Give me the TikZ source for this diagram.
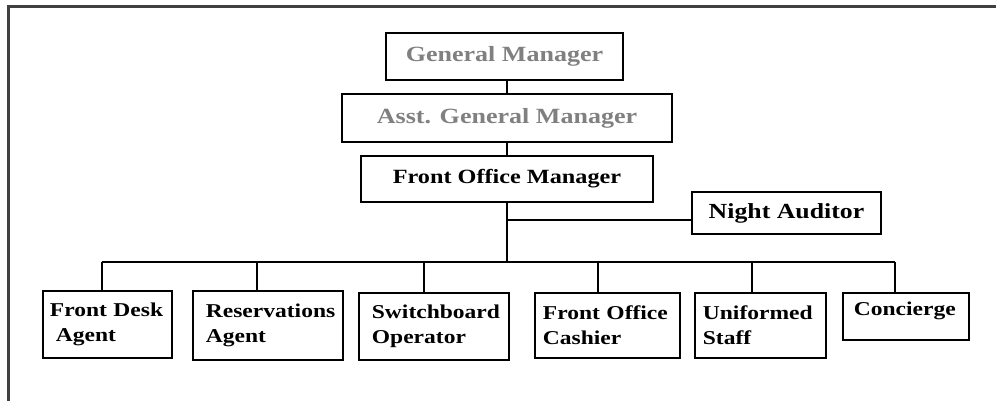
\documentclass[tikz,border=0pt]{standalone}
\usepackage{fontspec}
\newfontfamily\orgfont[FakeStretch=1.2]{Liberation Serif}
\definecolor{frameclr}{gray}{0.25}
\definecolor{greytxt}{gray}{0.5}
\begin{document}
\begin{tikzpicture}[x=1pt,y=-1pt,
  box/.style={draw=black, line width=1.8pt, inner sep=0pt, align=center},
  toptxt/.style={font=\orgfont\bfseries\fontsize{21.7}{25}\selectfont, text=greytxt},
  midtxt/.style={font=\orgfont\bfseries\fontsize{20.2}{24}\selectfont},
  leaf/.style={draw=black, line width=1.8pt, anchor=north west, align=left, inner ysep=0pt,
    font=\orgfont\bfseries\fontsize{19.6}{25}\selectfont},
  wire/.style={draw=black, line width=1.8pt}]
\useasboundingbox (0,0) rectangle (996,400);
\fill[white] (0,0) rectangle (996,400);
\draw[frameclr, line width=3pt] (8,401) -- (8,6) -- (997,6);

\node[box, toptxt, minimum width=237pt, minimum height=47pt] (gm) at (504.5,56.5) {General Manager};
\node[box, toptxt, minimum width=330pt, minimum height=48pt] (agm) at (507,118) {Asst. General Manager};
\node[box, midtxt, minimum width=292pt, minimum height=46pt] (fom) at (507,179) {Front Office Manager};
\node[box, midtxt, font=\orgfont\bfseries\fontsize{21.5}{25}\selectfont, minimum width=189pt, minimum height=42pt] (na) at (786.5,213) {Night Auditor};

\node[leaf, inner xsep=7pt, text width=115pt, minimum height=67pt] (fda) at (42,290) {Front~Desk\\\hspace*{6pt}Agent};
\node[leaf, inner xsep=13pt, text width=124pt, minimum height=69pt] (ra) at (192,290) {Reservations\\Agent};
\node[leaf, inner xsep=13pt, text width=124pt, minimum height=67pt] (so) at (358,292) {Switchboard\\Operator};
\node[leaf, inner xsep=8pt, text width=129pt, minimum height=65pt] (foc) at (534,292) {Front~Office\\Cashier};
\node[leaf, inner xsep=8pt, text width=115pt, minimum height=65pt] (us) at (694,292) {Uniformed\\Staff};
\node[leaf, inner xsep=11pt, text width=104pt, text depth=15pt, minimum height=47pt] (con) at (842,292) {Concierge};

\coordinate (nab) at (692,220);
\coordinate (bus) at (506,262);
\coordinate (d1) at (102,262);
\coordinate (d2) at (257,262);
\coordinate (d3) at (424,262);
\coordinate (d4) at (598,262);
\coordinate (d5) at (752,262);
\coordinate (d6) at (895,262);

\draw[wire] (agm.north) -- (agm.north |- gm.south);
\draw[wire] (fom.north) -- (fom.north |- agm.south);
\draw[wire] (fom.south) -- (fom.south |- bus);
\draw[wire] (fom.south |- nab) -- (na.west |- nab);
\draw[wire] (d1) -- (d6);
\draw[wire] (d1) -- (d1 |- fda.north);
\draw[wire] (d2) -- (d2 |- ra.north);
\draw[wire] (d3) -- (d3 |- so.north);
\draw[wire] (d4) -- (d4 |- foc.north);
\draw[wire] (d5) -- (d5 |- us.north);
\draw[wire] (d6) -- (d6 |- con.north);
\end{tikzpicture}
\end{document}
